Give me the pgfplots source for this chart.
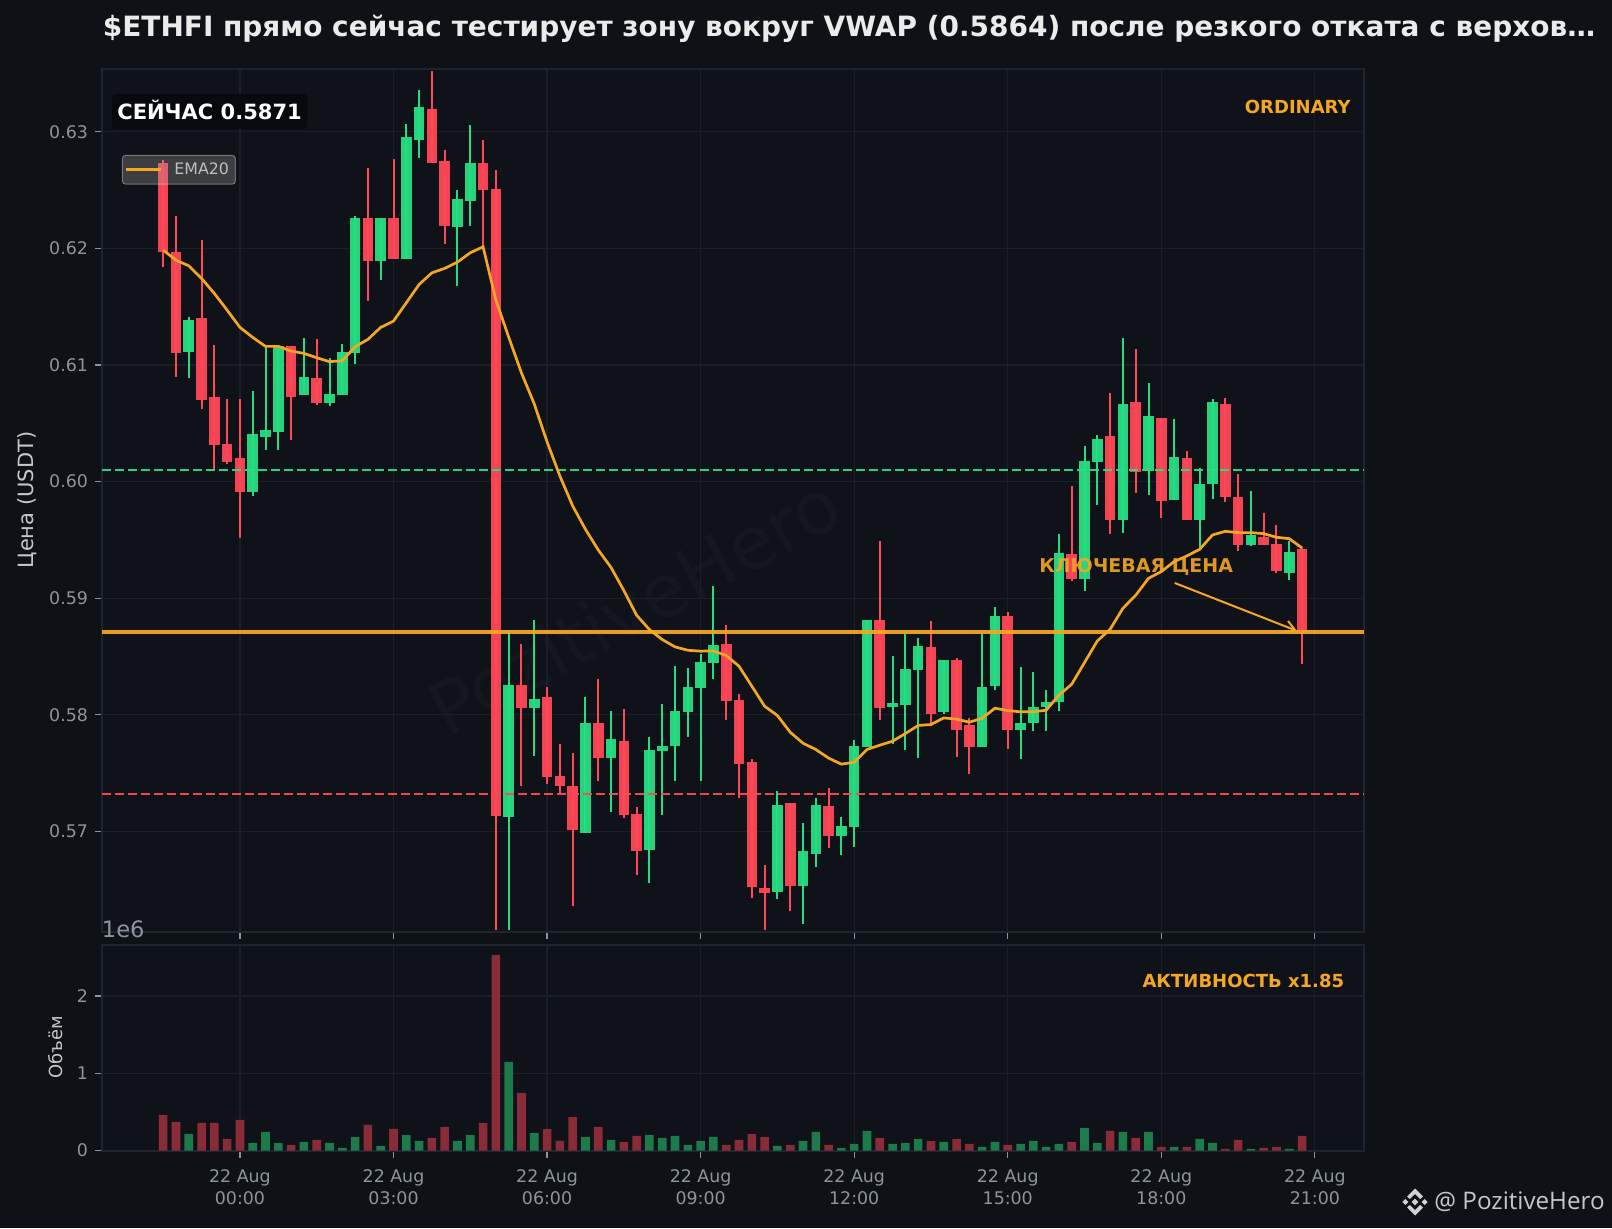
\documentclass[border=0pt]{standalone}
\usepackage{pgfplots}
\usepackage{pgfplotstable}
\usepackage{fontspec}
\pgfplotsset{compat=1.18}
\usetikzlibrary{arrows.meta}
\setmainfont{DejaVu Sans}
\newfontfamily\logofont{Open Sans}
\definecolor{figbg}{HTML}{0E1217}
\definecolor{axbg}{HTML}{0F1218}
\definecolor{gridc}{HTML}{1B1F26}
\definecolor{spinec}{HTML}{1E2530}
\definecolor{tickc}{HTML}{8F939C}
\definecolor{upc}{HTML}{26DE81}
\definecolor{dnc}{HTML}{FF4757}
\definecolor{upv}{HTML}{1C7A4B}
\definecolor{dnv}{HTML}{8A2C38}
\definecolor{orangec}{HTML}{F5A623}

\pgfplotstableread{
x o h l c v
-4 .61114 .61409 .60891 .61383 .216
1 .59914 .60777 .5988 .60406 .099
2 .60386 .61157 .60271 .6044 .241
3 .60429 .61171 .60271 .61163 .099
5 .6074 .61229 .6074 .60894 .112
7 .60677 .61057 .60651 .60749 .099
8 .6074 .6118 .6074 .61114 .034
9 .61106 .62277 .61009 .62257 .177
11 .61894 .62257 .61729 .62257 .06
13 .61906 .63071 .61906 .6296 .203
14 .62934 .63357 .62777 .63209 .125
17 .62186 .625 .61677 .6242 .125
18 .62409 .63057 .62194 .62729 .203
21 .57123 .58731 .56154 .58257 1.147
23 .58057 .58817 .57646 .58137 .228
27 .56986 .58149 .56986 .57931 .177
29 .57629 .58029 .57166 .57794 .138
32 .5684 .57811 .56557 .577 .203
33 .57689 .58097 .5714 .57734 .164
34 .57731 .58423 .57437 .58034 .19
35 .58023 .58406 .57806 .5824 .073
36 .58231 .58526 .57437 .58454 .125
37 .58446 .59109 .58311 .586 .177
42 .56483 .57349 .5642 .57229 .06
44 .56531 .57074 .56206 .56834 .125
45 .56809 .57289 .56694 .57229 .241
47 .5696 .57126 .56797 .57049 .034
48 .57037 .57786 .56866 .57734 .086
49 .57723 .58817 .57723 .58817 .254
51 .58069 .58509 .57749 .58103 .086
52 .58086 .58697 .577 .58397 .099
53 .58386 .58663 .57631 .58594 .151
55 .58023 .58474 .58009 .58474 .112
58 .57726 .58697 .57726 .58243 .047
59 .58249 .58929 .58214 .58851 .112
61 .57871 .58414 .5762 .57934 .086
62 .57931 .58371 .57863 .58071 .125
63 .58069 .58209 .5786 .58114 .047
64 .58114 .59549 .58034 .59391 .086
66 .59163 .60303 .59063 .6018 .293
67 .60169 .60403 .59797 .60369 .099
69 .59671 .61234 .5956 .60669 .241
71 .60091 .60843 .59883 .60566 .241
73 .59843 .60534 .59843 .60214 .047
75 .59671 .60114 .5942 .59983 .151
76 .5998 .60706 .59849 .60686 .099
79 .59454 .59923 .59446 .59546 .022
82 .59217 .59491 .59154 .594 .022
}\upT

\pgfplotstableread{
x o h l c v
-6 .62729 .62757 .61843 .61971 .461
-5 .61971 .62277 .609 .61106 .371
-3 .614 .62071 .60626 .60703 .358
-2 .60723 .61171 .60094 .60317 .358
-1 .6032 .60709 .60154 .60171 .151
0 .602 .60709 .5952 .59914 .397
4 .61163 .61163 .60357 .60729 .073
6 .60886 .6122 .60657 .60677 .138
10 .62257 .62694 .61551 .61894 .332
12 .62257 .62771 .61906 .61906 .28
15 .632 .6352 .62729 .62729 .164
16 .62746 .62843 .62037 .62194 .306
19 .62737 .62929 .62 .62503 .358
20 .62514 .62677 .56154 .57131 2.53
22 .58257 .58611 .57389 .58057 .746
24 .58154 .5824 .57411 .57466 .28
25 .57477 .57746 .57323 .57389 .125
26 .57391 .57674 .5636 .57009 .435
28 .57931 .58311 .57431 .57629 .306
30 .57777 .58046 .57114 .5714 .112
31 .57151 .57211 .56626 .56831 .19
38 .58609 .58774 .57954 .5812 .073
39 .58129 .5818 .57286 .5758 .138
40 .57597 .57623 .56429 .56526 .216
41 .56517 .56714 .56154 .56471 .177
43 .5724 .57246 .56317 .56531 .073
46 .5722 .57374 .56857 .5696 .073
50 .58817 .59491 .57954 .58057 .164
54 .58586 .58806 .57923 .58009 .125
56 .58474 .58491 .5764 .57871 .151
57 .57917 .57969 .57494 .57726 .086
60 .58851 .58886 .57706 .57871 .073
65 .59383 .5996 .59149 .59163 .112
68 .60394 .60757 .59549 .59671 .254
70 .60686 .61134 .599 .60083 .164
72 .60549 .60549 .59686 .59834 .047
74 .60206 .60266 .59671 .59671 .047
77 .60669 .60714 .59826 .59869 .022
78 .59871 .60063 .59403 .59457 .138
80 .59529 .59729 .59457 .59457 .034
81 .59469 .59626 .5922 .59234 .047
83 .59426 .59429 .58434 .58714 .19
}\dnT

\pgfplotsset{
  chartaxis/.style={
    scale only axis, width=631pt,
    xmin=-10.78, xmax=87.84,
    axis line style={draw=spinec, line width=1pt},
    grid=major, grid style={draw=gridc, line width=.6pt},
    xtick={0,12,...,84},
    tick style={draw=tickc, line width=.6pt},
    major tick length=3.5pt,
    tick align=outside,
    xtick pos=lower, ytick pos=left,
    ticklabel style={font=\fontsize{8.7}{11}\selectfont, text=tickc},
    /pgf/number format/assume math mode=true,
  },
  wick/.style={draw=none, mark=none, forget plot,
    error bars/.cd, y dir=both, y explicit, error mark=none,
    error bar style={draw=#1, line width=1pt}},
  body/.style={draw=none, mark=none, forget plot,
    error bars/.cd, y dir=plus, y explicit, error mark=none,
    error bar style={draw=#1, line width=5.3pt, opacity=.95}},
}

\begin{document}
\begin{tikzpicture}
\fill[figbg] (0,0) rectangle (806pt,614pt);
\fill[axbg] (51pt,148.25pt) rectangle (682pt,579.5pt);
\fill[axbg] (51pt,38.75pt) rectangle (682pt,141.5pt);
\begin{scope}[x=.5pt,y=-.5pt,shift={(0,614pt)}]
\node[rotate=28.5, text=white, opacity=.025, font=\fontsize{36.5}{40}\selectfont] at (634,606) {PozitiveHero};
\end{scope}

\begin{axis}[chartaxis, name=main, at={(51pt,148.25pt)}, anchor=south west,
  height=431.25pt,
  ymin=.56142, ymax=.63539,
  ytick={.57,.58,.59,.60,.61,.62,.63},
  yticklabel style={/pgf/number format/fixed, /pgf/number format/fixed zerofill, /pgf/number format/precision=2},
  xticklabels={},
  legend style={at={(.0158,.9004)}, anchor=north west, fill=black!35!white, fill opacity=.3, draw opacity=.35, text opacity=1, draw=white, rounded corners=1.5pt, font=\fontsize{7.9}{9}\selectfont, text=white!75!black, inner xsep=1.2pt, inner ysep=1.5pt, line width=.5pt},
  legend image code/.code={\draw[orangec, line width=1.3pt, opacity=1] (0,0) -- (17.5pt,0);},
  legend cell align=left,
]
\addplot[wick=upc] table[x=x, y=o, y error plus expr=\thisrow{h}-\thisrow{o}, y error minus expr=\thisrow{o}-\thisrow{l}] {\upT};
\addplot[wick=dnc] table[x=x, y=o, y error plus expr=\thisrow{h}-\thisrow{o}, y error minus expr=\thisrow{o}-\thisrow{l}] {\dnT};
\addplot[body=upc] table[x=x, y=o, y error plus expr=\thisrow{c}-\thisrow{o}] {\upT};
\addplot[body=dnc] table[x=x, y=c, y error plus expr=\thisrow{o}-\thisrow{c}] {\dnT};
\addplot[forget plot, draw=upc, line width=1.35pt, dash pattern=on 4.6pt off 1.9pt, opacity=.95] coordinates {(-10.78,.601)(87.84,.601)};
\addplot[forget plot, draw=dnc, line width=1.35pt, dash pattern=on 4.6pt off 1.9pt, opacity=.95] coordinates {(-10.78,.5732)(87.84,.5732)};
\addplot[forget plot, draw=orangec, line width=1.8pt, opacity=.95] coordinates {(-10.78,.5871)(87.84,.5871)};
\addplot[draw=orangec, line width=1.35pt] coordinates {
(-6,.61986)(-5,.619)(-4,.61851)(-3,.61743)(-2,.61614)(-1,.61471)(0,.61323)(1,.61237)(2,.6116)(3,.6116)
(4,.6112)(5,.611)(6,.61063)(7,.61029)(8,.61037)(9,.61157)(10,.6122)(11,.61323)(12,.61377)(13,.61534)
(14,.61691)(15,.61791)(16,.61829)(17,.61883)(18,.61963)(19,.62014)(20,.61557)(21,.6124)(22,.60932)(23,.60666)
(24,.60341)(25,.60049)(26,.59792)(27,.59591)(28,.59414)(29,.59264)(30,.59066)(31,.58854)(32,.58731)(33,.58646)
(34,.58583)(35,.58554)(36,.58546)(37,.58549)(38,.58509)(39,.58417)(40,.58246)(41,.58074)(42,.57994)(43,.57851)
(44,.57757)(45,.57703)(46,.57629)(47,.57577)(48,.57594)(49,.57703)(50,.5774)(51,.57774)(52,.5784)(53,.57909)
(54,.57917)(55,.57974)(56,.57963)(57,.57937)(58,.57971)(59,.58057)(60,.58037)(61,.58026)(62,.58026)(63,.5804)
(64,.58169)(65,.58263)(66,.58449)(67,.58634)(68,.58734)(69,.58914)(70,.59026)(71,.59171)(72,.59229)(73,.59314)
(74,.59363)(75,.5942)(76,.59543)(77,.59574)(78,.59563)(79,.59563)(80,.59554)(81,.59523)(82,.59511)(83,.59431)};
\addlegendentry{\hspace{4pt}EMA20}
\addplot[forget plot, draw=orangec, line width=1pt, -{Straight Barb[length=5pt,width=6pt]}] coordinates {(73.05,.59131)(82.6,.5872)};
\end{axis}

\begin{axis}[chartaxis, name=vol, at={(51pt,38.75pt)}, anchor=south west,
  height=102.75pt,
  ymin=0, ymax=2.66,
  ytick={0,1,2},
  xticklabels={{22 Aug\\00:00},{22 Aug\\03:00},{22 Aug\\06:00},{22 Aug\\09:00},{22 Aug\\12:00},{22 Aug\\15:00},{22 Aug\\18:00},{22 Aug\\21:00}},
  xticklabel style={align=center, yshift=-2.5pt},
]
\addplot[ybar, bar width=4.3pt, bar shift=0pt, fill=upv, draw=none] table[x=x, y=v] {\upT};
\addplot[ybar, bar width=4.3pt, bar shift=0pt, fill=dnv, draw=none] table[x=x, y=v] {\dnT};
\end{axis}

\begin{scope}[x=.5pt,y=-.5pt,shift={(0,614pt)}]
\node[anchor=west, text=white!92!black, font=\bfseries\fontsize{13.98}{16}\selectfont, inner sep=0pt] at (102.5,29) {\$ETHFI прямо сейчас тестирует зону вокруг VWAP (0.5864) после резкого отката с верхов…};
\node[rotate=90, text=white!78!black, font=\fontsize{10.5}{12}\selectfont] at (27,500) {Цена (USDT)};
\node[rotate=90, text=white!78!black, font=\fontsize{9}{11}\selectfont] at (55.5,1047) {Объём};
\node[anchor=west, text=tickc, font=\fontsize{11.3}{13}\selectfont, inner sep=0pt] at (101.5,929) {1e6};
\fill[black!50!axbg, rounded corners=1.5pt] (112,94) rectangle (307,129);
\node[anchor=west, text=white, font=\bfseries\fontsize{10.5}{12}\selectfont, inner sep=0pt] at (117,110) {СЕЙЧАС 0.5871};
\node[anchor=east, text=orangec, font=\bfseries\fontsize{9}{10}\selectfont, inner sep=0pt] at (1351,107) {ORDINARY};
\node[anchor=east, text=orangec, font=\bfseries\fontsize{9}{10}\selectfont, inner sep=0pt] at (1344.5,981) {АКТИВНОСТЬ x1.85};
\node[anchor=west, text=orangec, opacity=.9, font=\bfseries\fontsize{9.5}{11}\selectfont, inner sep=0pt] at (1039,567) {КЛЮЧЕВАЯ ЦЕНА};
\node[anchor=west, text=white!78!black, font=\logofont\fontsize{12.1}{14}\selectfont, inner sep=0pt] at (1434,1202) {@ PozitiveHero};
\begin{scope}[shift={(1415,1202)}]
\fill[white!82!black] (0,-3.4)--(3.4,0)--(0,3.4)--(-3.4,0)--cycle;
\fill[white!82!black] (-9.6,-3)--(-6.6,0)--(-9.6,3)--(-12.6,0)--cycle;
\fill[white!82!black] (9.6,-3)--(12.6,0)--(9.6,3)--(6.6,0)--cycle;
\fill[white!82!black] (0,-13.5)--(8,-5.5)--(5.2,-3)--(0,-8)--(-5.2,-3)--(-8,-5.5)--cycle;
\fill[white!82!black] (0,13.5)--(8,5.5)--(5.2,3)--(0,8)--(-5.2,3)--(-8,5.5)--cycle;
\end{scope}
\end{scope}
\end{tikzpicture}
\end{document}
